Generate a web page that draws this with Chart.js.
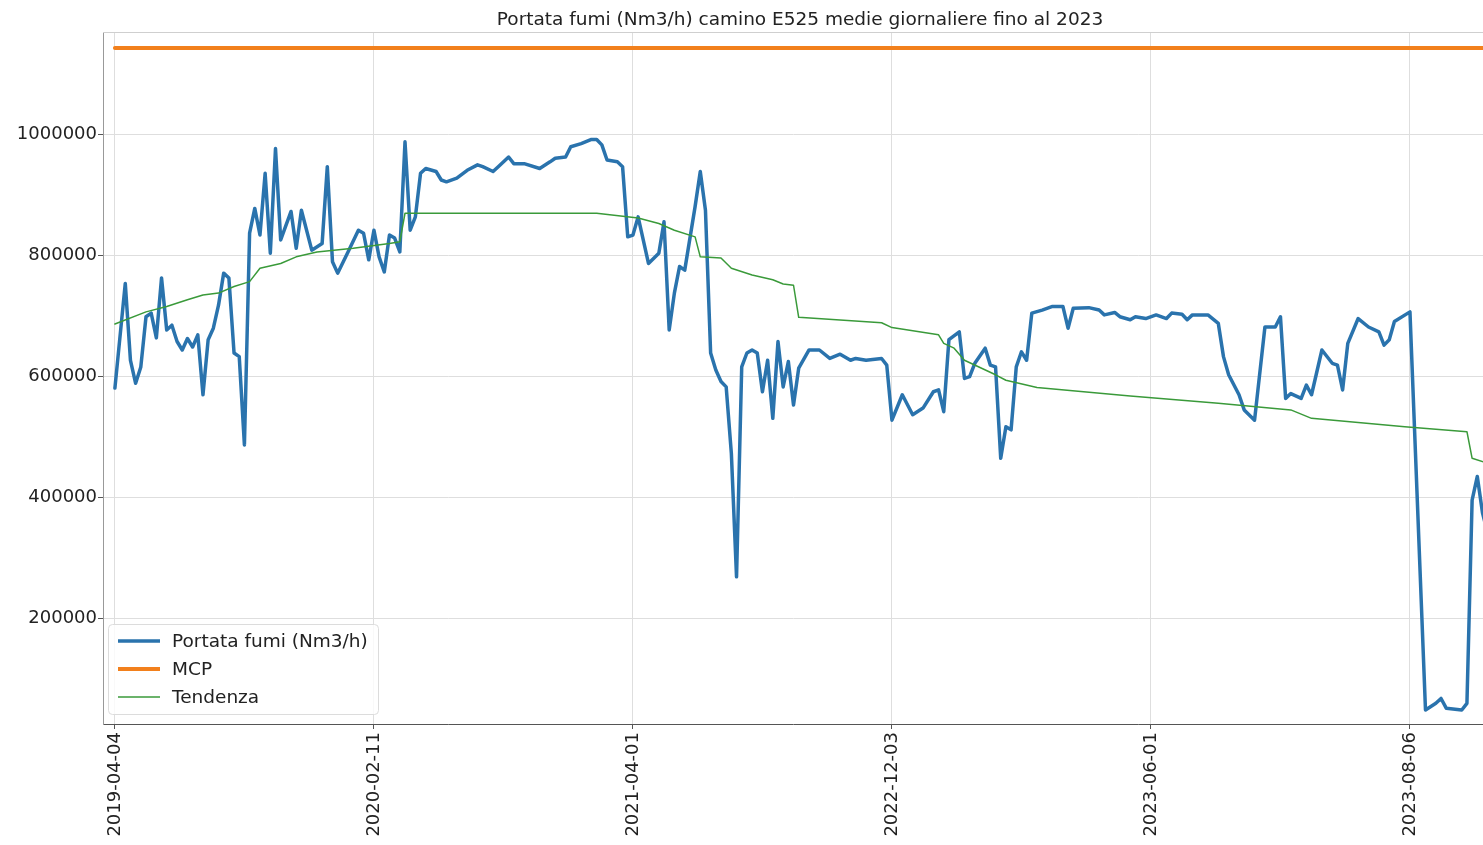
<!DOCTYPE html>
<html>
<head>
<meta charset="utf-8">
<script src="https://cdn.jsdelivr.net/npm/chart.js@4.4.0/dist/chart.umd.min.js"></script>
<style>
  html, body { margin: 0; padding: 0; background: #fff; overflow: hidden; }
  #wrap { width: 1483px; height: 845px; }
</style>
</head>
<body>
<div id="wrap"><canvas id="grafico" width="1483" height="845"></canvas></div>
<script>
const titolo = "Portata fumi (Nm3/h) camino E525 medie giornaliere fino al 2023";

// tick labels of the x axis (one every 50 samples)
const tickGiorni = [0, 50, 100, 150, 200, 250];
const tickDate = ["2019-04-04", "2020-02-11", "2021-04-01", "2022-12-03", "2023-06-01", "2023-08-06"];
const yTicks = [200000, 400000, 600000, 800000, 1000000];

// Portata fumi (Nm3/h): sample index -> daily mean
const giorni = [
  0, 2, 3, 4, 5, 6, 7, 8, 9, 10, 11, 12, 13, 14, 15, 16, 17, 18, 19, 20,
  21, 22, 23, 24, 25, 26, 27, 28, 29, 30, 31, 32, 34, 35, 36, 38, 40, 41, 42, 43,
  45, 47, 48, 49, 50, 51, 52, 53, 54, 55, 56, 57, 58, 59, 60, 62, 63, 64, 66, 68,
  70, 71, 73, 74, 76, 77, 79, 82, 84, 85, 87, 88, 90, 92, 93, 94, 95, 97, 98, 99,
  100, 101, 103, 105, 106, 107, 108, 109, 110, 112, 113, 114, 115, 116, 117, 118, 119, 120, 121, 122,
  123, 124, 125, 126, 127, 128, 129, 130, 131, 132, 134, 136, 138, 140, 142, 143, 145, 148, 149, 150,
  152, 154, 156, 158, 159, 160, 161, 163, 164, 165, 166, 168, 169, 170, 171, 172, 173, 174, 175, 176,
  177, 179, 181, 183, 184, 185, 188, 190, 191, 193, 194, 196, 197, 199, 201, 203, 204, 206, 207, 208,
  211, 213, 214, 215, 217, 218, 220, 222, 224, 225, 226, 227, 229, 230, 231, 233, 235, 236, 237, 238,
  240, 242, 244, 245, 246, 247, 250, 253, 255, 256, 257, 260, 261, 262, 263, 264, 265
];
const portata = [
  580000, 753000, 626000, 588000, 615000, 698000, 704000, 663000, 762000, 676000, 684000, 657000, 643000, 662000, 648000, 668000, 569000, 660000, 679000, 717000,
  770000, 762000, 638000, 632000, 486000, 836000, 877000, 833000, 935000, 803000, 976000, 825000, 872000, 811000, 874000, 808000, 819000, 946000, 789000, 770000,
  805000, 841000, 836000, 792000, 841000, 797000, 772000, 833000, 828000, 805000, 987000, 841000, 863000, 935000, 943000, 938000, 924000, 921000, 927000, 940000,
  949000, 946000, 938000, 946000, 962000, 951000, 951000, 943000, 954000, 960000, 962000, 979000, 984000, 991000, 991000, 982000, 957000, 954000, 946000, 830000,
  833000, 863000, 786000, 803000, 855000, 676000, 737000, 781000, 775000, 880000, 938000, 874000, 638000, 610000, 591000, 582000, 472000, 268000, 615000, 638000,
  643000, 638000, 574000, 626000, 530000, 657000, 582000, 624000, 552000, 613000, 643000, 643000, 629000, 636000, 626000, 629000, 626000, 629000, 618000, 527000,
  569000, 536000, 547000, 574000, 577000, 541000, 660000, 673000, 596000, 599000, 621000, 646000, 618000, 615000, 464000, 516000, 511000, 615000, 640000, 626000,
  704000, 709000, 715000, 715000, 679000, 712000, 713000, 709000, 701000, 705000, 698000, 693000, 698000, 695000, 701000, 695000, 704000, 702000, 693000, 701000,
  701000, 687000, 632000, 602000, 569000, 544000, 527000, 681000, 681000, 698000, 563000, 571000, 563000, 585000, 569000, 643000, 621000, 618000, 577000, 654000,
  695000, 681000, 673000, 651000, 660000, 690000, 706000, 48000, 59000, 67000, 51000, 48000, 59000, 395000, 434000, 374000, 340000
];

// Tendenza
const tendGiorni = [
  0, 6, 10, 14, 17, 20, 23, 26, 28, 32, 35, 39, 46, 53, 55, 56, 93, 101, 105, 108,
  112, 113, 117, 119, 123, 127, 129, 131, 132, 148, 150, 159, 160, 162, 164, 170, 172, 178, 196, 213,
  227, 231, 249, 261, 262, 265
];
const tendenza = [
  686000, 706000, 715000, 726000, 734000, 737000, 748000, 756000, 778000, 786000, 797000, 805000, 811000, 819000, 822000, 869000, 869000, 861000, 852000, 841000,
  830000, 797000, 795000, 778000, 767000, 759000, 752000, 750000, 697000, 688000, 680000, 668000, 654000, 646000, 626000, 602000, 593000, 581000, 567000, 555000,
  544000, 530000, 516000, 508000, 464000, 456000
];

// MCP (constant limit)
const MCP = 1142000;

const punti = (xs, ys) => xs.map((x, i) => ({ x: x, y: ys[i] }));

Chart.defaults.font.family = "'DejaVu Sans', sans-serif";
Chart.defaults.color = "#222";

const decorazioni = {
  id: "decorazioni",
  afterDraw(chart) {
    const { ctx, chartArea } = chart;
    ctx.save();

    // top spine
    ctx.strokeStyle = "#cfcfcf";
    ctx.lineWidth = 1;
    ctx.beginPath();
    ctx.moveTo(chartArea.left, chartArea.top + 0.5);
    ctx.lineTo(chartArea.right, chartArea.top + 0.5);
    ctx.stroke();

    // title
    ctx.font = "18.5px 'DejaVu Sans'";
    ctx.fillStyle = "#222";
    ctx.textAlign = "center";
    ctx.textBaseline = "middle";
    ctx.fillText(titolo, 800, 20);

    // legend, lower left like matplotlib
    const bx = 108, by = 624, bw = 270, bh = 90;
    ctx.fillStyle = "rgba(255,255,255,0.8)";
    ctx.strokeStyle = "#dcdcdc";
    ctx.beginPath();
    ctx.roundRect(bx + 0.5, by + 0.5, bw, bh, 4);
    ctx.fill();
    ctx.stroke();

    ctx.textAlign = "left";
    chart.data.datasets.forEach((ds, i) => {
      const y = 641 + i * 28;
      ctx.strokeStyle = ds.borderColor;
      ctx.lineWidth = ds.borderWidth;
      ctx.beginPath();
      ctx.moveTo(118, y);
      ctx.lineTo(160, y);
      ctx.stroke();
      ctx.fillStyle = "#222";
      ctx.fillText(ds.label, 172, y + 1);
    });
    ctx.restore();
  }
};

new Chart(document.getElementById("grafico"), {
  type: "line",
  data: {
    datasets: [
      {
        label: "Portata fumi (Nm3/h)",
        data: punti(giorni, portata),
        borderColor: "#2a73ad",
        borderWidth: 3.5,
        order: 2
      },
      {
        label: "MCP",
        data: [{ x: giorni[0], y: MCP }, { x: giorni[giorni.length - 1], y: MCP }],
        borderColor: "#f2801c",
        borderWidth: 4,
        order: 1
      },
      {
        label: "Tendenza",
        data: punti(tendGiorni, tendenza),
        borderColor: "#3a9a3a",
        borderWidth: 1.5,
        order: 0
      }
    ]
  },
  options: {
    responsive: false,
    animation: false,
    parsing: false,
    layout: { padding: { top: 32, right: 0, left: 0, bottom: 0 } },
    elements: {
      point: { radius: 0 },
      line: { tension: 0, borderCapStyle: "round", borderJoinStyle: "round" }
    },
    plugins: {
      legend: { display: false },
      title: { display: false },
      tooltip: { enabled: false }
    },
    scales: {
      x: {
        type: "linear",
        min: -2.3,
        max: 264.1,
        afterFit: (scale) => { scale.height = 121; },
        afterBuildTicks: (scale) => { scale.ticks = tickGiorni.map((v) => ({ value: v })); },
        ticks: {
          autoSkip: false,
          maxRotation: 90,
          minRotation: 90,
          padding: 3,
          font: { size: 18 },
          callback: (v) => tickDate[tickGiorni.indexOf(v)]
        },
        grid: { color: "#dedede", tickLength: 5, tickColor: "#555" },
        border: { color: "#555", width: 1 }
      },
      y: {
        min: 24800,
        max: 1168600,
        afterFit: (scale) => { scale.width = 103; },
        afterBuildTicks: (scale) => { scale.ticks = yTicks.map((v) => ({ value: v })); },
        ticks: {
          padding: 1,
          font: { size: 18 },
          callback: (v) => String(v)
        },
        grid: { color: "#dedede", tickLength: 5, tickColor: "#555" },
        border: { color: "#999", width: 1 }
      }
    }
  },
  plugins: [decorazioni]
});
</script>
</body>
</html>
